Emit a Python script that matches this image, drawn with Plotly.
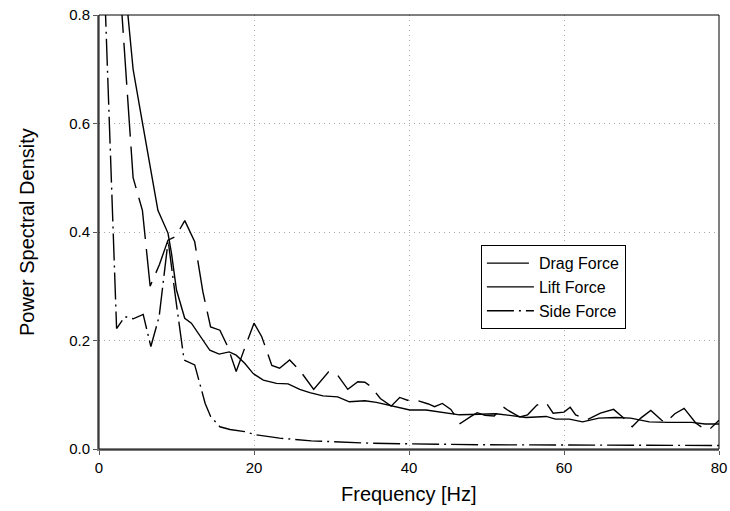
import plotly.graph_objects as go

# Drag Force (long dashed)
drag_f = [2.3, 4.4, 5.6, 6.6, 7.8, 8.9, 9.9, 11.07, 12.35, 13.4, 14.4, 15.6, 16.6, 17.7,
          18.8, 20.0, 21.0, 22.3, 23.3, 24.6, 25.9, 27.7, 29.6, 30.7, 32.1, 33.4, 34.3,
          35.1, 36.3, 37.7, 38.8, 39.8, 40.9, 42.5, 43.3, 44.3, 45.4, 46.6, 48.0, 48.8,
          49.8, 51.0, 52.1, 52.8, 54.3, 55.3, 56.5, 57.7, 58.6, 60.0, 60.8, 61.5, 63.0,
          64.7, 66.4, 67.7, 68.8, 69.9, 71.2, 72.6, 73.1, 74.3, 75.5, 77.0, 78.2, 78.9, 80.0]
drag_v = [0.94, 0.50, 0.44, 0.30, 0.34, 0.385, 0.392, 0.421, 0.382, 0.29, 0.225, 0.219,
          0.189, 0.143, 0.186, 0.232, 0.207, 0.154, 0.149, 0.164, 0.145, 0.11, 0.142, 0.138,
          0.11, 0.124, 0.123, 0.115, 0.093, 0.079, 0.095, 0.09, 0.09, 0.083, 0.078, 0.084,
          0.073, 0.047, 0.06, 0.067, 0.062, 0.061, 0.078, 0.071, 0.059, 0.063, 0.081, 0.085,
          0.066, 0.068, 0.077, 0.063, 0.054, 0.066, 0.073, 0.057, 0.041, 0.057, 0.071, 0.053,
          0.049, 0.065, 0.075, 0.048, 0.036, 0.038, 0.053]

# Lift Force (solid)
lift_f = [3.2, 4.4, 5.5, 6.6, 7.6, 8.9, 9.35, 10.0, 11.06, 11.92, 12.7, 13.5, 14.3, 15.5,
          16.8, 17.7, 18.8, 19.9, 21.2, 22.9, 24.4, 25.9, 27.2, 28.9, 30.8, 32.3, 34.3,
          35.8, 38.4, 40.1, 42.2, 44.0, 46.5, 49.1, 51.2, 53.0, 55.1, 57.7, 58.9, 60.7,
          62.4, 64.5, 66.7, 68.6, 71.0, 73.5, 76.5, 78.2, 80.0]
lift_v = [0.88, 0.70, 0.61, 0.52, 0.44, 0.398, 0.361, 0.293, 0.241, 0.232, 0.216, 0.198,
          0.182, 0.175, 0.179, 0.173, 0.158, 0.139, 0.127, 0.121, 0.12, 0.11, 0.104, 0.098,
          0.096, 0.087, 0.089, 0.086, 0.078, 0.072, 0.072, 0.068, 0.063, 0.064, 0.065, 0.062,
          0.058, 0.06, 0.055, 0.055, 0.05, 0.057, 0.058, 0.057, 0.05, 0.049, 0.049, 0.046, 0.046]

# Side Force (dash-dot)
side_f = [0.6, 2.27, 3.34, 4.41, 5.7, 6.69, 7.76, 8.92, 9.86, 10.98, 12.35, 13.7, 14.4,
          15.6, 16.9, 18.8, 20.3, 21.6, 23.3, 27.4, 35.3, 49.1, 65.0, 80.0]
side_v = [0.9, 0.222, 0.244, 0.240, 0.248, 0.189, 0.244, 0.384, 0.281, 0.164, 0.155, 0.084,
          0.06, 0.041, 0.036, 0.032, 0.026, 0.023, 0.02, 0.015, 0.0105, 0.0078, 0.007, 0.0065]

x_ticks = [0, 20, 40, 60, 80]
y_ticks = [0.0, 0.2, 0.4, 0.6, 0.8]
y_tick_text = ["0.0", "0.2", "0.4", "0.6", "0.8"]

FONT = "Liberation Sans, Arial, sans-serif"

fig = go.Figure()
fig.add_trace(go.Scatter(x=drag_f, y=drag_v, mode="lines", name="Drag Force",
                         line=dict(color="black", width=1.4, dash="42px,10px")))
fig.add_trace(go.Scatter(x=lift_f, y=lift_v, mode="lines", name="Lift Force",
                         line=dict(color="black", width=1.4)))
fig.add_trace(go.Scatter(x=side_f, y=side_v, mode="lines", name="Side Force",
                         line=dict(color="black", width=1.4, dash="27px,5px,2px,5px")))

fig.update_layout(
    width=730, height=511,
    margin=dict(l=99, r=11, t=15, b=62, autoexpand=False),
    paper_bgcolor="white", plot_bgcolor="white",
    font=dict(family=FONT, size=15, color="black"),
    showlegend=True,
    legend=dict(x=0.616, y=0.276, xanchor="left", yanchor="bottom",
                bgcolor="white", bordercolor="black", borderwidth=1,
                font=dict(family=FONT, size=16, color="black"),
                itemwidth=47),
    annotations=[
        dict(text="Frequency [Hz]", xref="paper", yref="paper", x=0.5, y=-0.104,
             xanchor="center", yanchor="middle", showarrow=False,
             font=dict(family=FONT, size=20, color="black")),
        dict(text="Power Spectral Density", xref="paper", yref="paper", x=-0.116, y=0.5,
             xanchor="center", yanchor="middle", showarrow=False, textangle=-90,
             font=dict(family=FONT, size=20, color="black")),
    ],
)
fig.update_xaxes(range=[0, 80], tickvals=x_ticks, ticks="outside", ticklen=4,
                 tickcolor="#555", showline=True, linecolor="#777", linewidth=2,
                 showgrid=True, gridcolor="#a8a8a8", griddash="1px,4px", gridwidth=1,
                 zeroline=False, automargin=False, ticklabeloverflow="allow",
                 tickfont=dict(family=FONT, size=15))
fig.update_yaxes(range=[0, 0.8], tickvals=y_ticks, ticktext=y_tick_text, ticks="outside",
                 ticklen=4, tickcolor="#555", showline=True, linecolor="#777", linewidth=2,
                 showgrid=True, gridcolor="#a8a8a8", griddash="1px,4px", gridwidth=1,
                 zeroline=False, automargin=False, ticklabeloverflow="allow",
                 tickfont=dict(family=FONT, size=15))
fig.add_shape(type="rect", xref="paper", yref="paper", x0=0, y0=0, x1=1, y1=1,
              line=dict(color="black", width=1), layer="above")

# remove the browser's default 8px body margin so the figure fills the window
fig.write_html("out.html", config={"displayModeBar": False},
               post_script="document.body.style.margin='0';")
